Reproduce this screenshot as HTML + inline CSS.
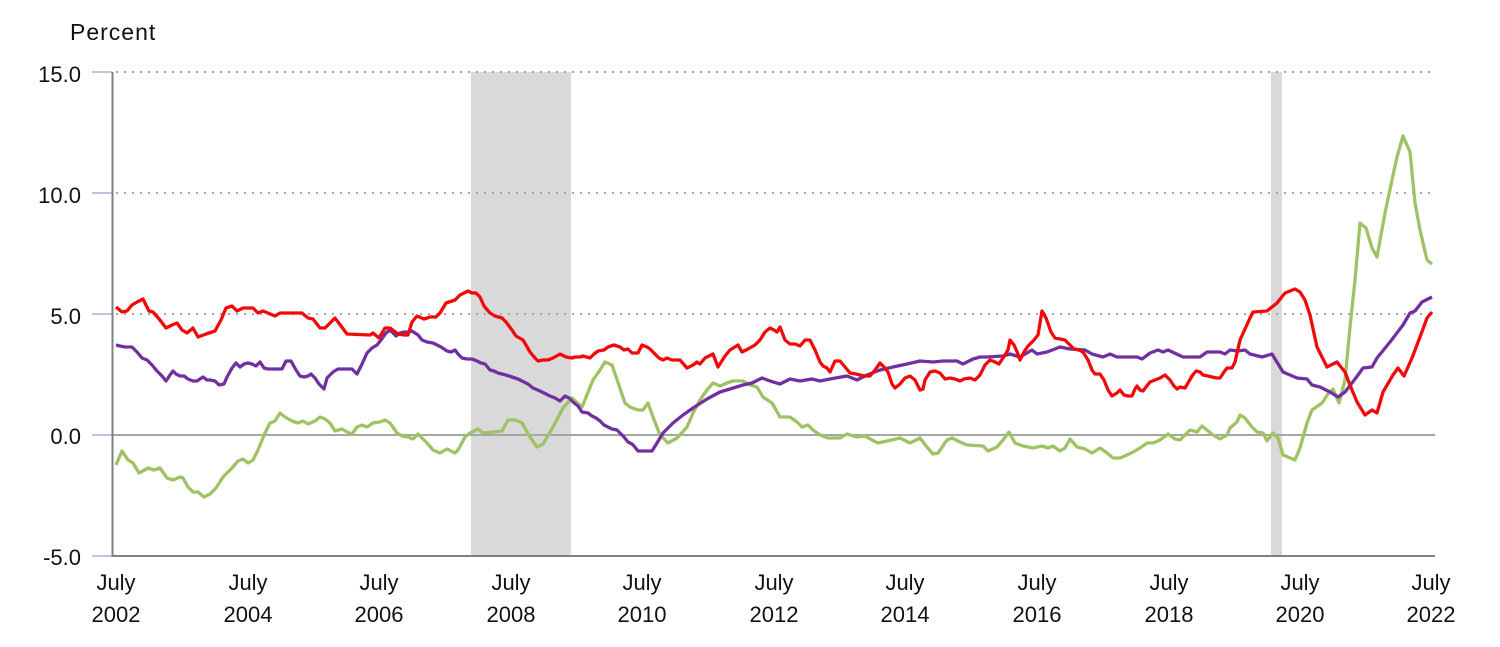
<!DOCTYPE html>
<html>
<head>
<meta charset="utf-8">
<style>
html,body{margin:0;padding:0;background:#fff;}
svg{display:block;}
text{font-family:"Liberation Sans",Arial,sans-serif;fill:#111;}
</style>
</head>
<body>
<svg width="1500" height="647" viewBox="0 0 1500 647" xmlns="http://www.w3.org/2000/svg">
<rect x="0" y="0" width="1500" height="647" fill="#fff"/>
<!-- recession shading -->
<rect x="471" y="72" width="100" height="484" fill="#d9d9d9"/>
<rect x="1271" y="72" width="11" height="484" fill="#d9d9d9"/>
<!-- dotted gridlines -->
<g stroke="#a6a6a6" stroke-width="2" stroke-dasharray="2 6" fill="none">
<line x1="116" y1="72" x2="1435" y2="72"/>
<line x1="116" y1="193" x2="1435" y2="193"/>
<line x1="116" y1="314" x2="1435" y2="314"/>
</g>
<!-- tick marks -->
<g stroke="#bcc6dc" stroke-width="2">
<line x1="92" y1="72" x2="112" y2="72"/>
<line x1="92" y1="193" x2="112" y2="193"/>
<line x1="92" y1="314" x2="112" y2="314"/>
<line x1="92" y1="435" x2="112" y2="435"/>
<line x1="92" y1="556" x2="112" y2="556"/>
</g>
<!-- zero line -->
<line x1="112" y1="435" x2="1435" y2="435" stroke="#a6a6a6" stroke-width="2"/>
<!-- axes -->
<line x1="112.5" y1="72" x2="112.5" y2="557" stroke="#808080" stroke-width="2"/>
<line x1="112" y1="556" x2="1435" y2="556" stroke="#808080" stroke-width="2"/>

<!-- green -->
<polyline fill="none" stroke="#9fc265" stroke-width="3.3" stroke-linejoin="round" points="116,465 122,451 128,460 133,463 139,473 148,468 154,470 160,468 167,478 173,480 180,477 183,478 188,487 193,492 198,492 204,497 210,494 216,488 223,477 232,468 238,461 243,459 248,463 253,460 258,450 265,433 270,423 275,421 280,413 285,417 292,421 298,423 303,421 308,424 315,421 320,417 325,419 330,423 335,431 342,429 347,432 352,434 357,427 362,425 367,427 373,423 380,422 385,420 390,423 397,433 402,436 408,437 413,439 418,434 427,443 433,450 440,453 447,449 455,453 458,450 465,437 470,433 478,429 483,433 493,432 502,431 508,420 515,420 522,423 530,437 537,447 543,444 553,427 563,408 572,398 582,407 593,380 600,370 605,362 612,365 625,403 630,407 638,410 643,410 648,403 653,417 660,435 668,443 677,438 687,427 693,413 700,400 707,390 713,383 720,386 727,383 733,381 743,381 750,385 757,387 763,397 772,403 780,417 790,417 797,422 802,427 808,425 813,430 820,435 828,438 840,438 847,434 857,437 865,436 872,440 878,443 887,441 900,438 910,443 920,438 927,447 933,454 938,453 947,440 952,438 960,442 967,445 983,446 988,451 997,447 1003,440 1009,432 1015,443 1023,446 1033,448 1042,446 1048,448 1053,446 1060,451 1065,448 1070,439 1077,447 1085,449 1092,453 1100,448 1107,453 1113,458 1120,458 1127,455 1133,452 1140,448 1147,443 1153,443 1160,440 1168,434 1175,439 1180,440 1190,430 1197,432 1202,426 1213,435 1220,439 1227,435 1230,428 1237,422 1240,415 1245,418 1252,427 1257,432 1263,433 1267,441 1273,433 1278,438 1283,455 1295,460 1300,448 1307,423 1312,410 1322,403 1328,394 1333,389 1339,403 1345,380 1350,327 1355,280 1360,223 1366,228 1372,248 1377,257 1385,213 1392,180 1397,157 1403,136 1410,152 1415,203 1420,230 1427,260 1432,264"/>

<!-- purple -->
<polyline fill="none" stroke="#7030a0" stroke-width="3.3" stroke-linejoin="round" points="116,345 120,346 125,347 132,347 137,352 142,358 147,360 152,365 157,371 162,376 166,381 170,375 173,371 176,374 180,376 184,376 188,379 193,381 197,381 200,379 203,377 207,380 210,380 215,381 219,385 224,384 227,377 232,368 236,363 240,367 244,364 248,363 252,364 256,366 260,362 264,368 268,369 272,369 278,369 282,369 286,361 291,361 296,370 300,376 304,377 308,376 311,374 315,378 319,384 324,389 327,378 333,372 338,369 342,369 348,369 352,369 357,374 362,364 367,353 372,348 377,345 381,340 386,333 390,330 396,336 400,333 404,332 408,332 412,331 418,335 422,340 427,342 433,343 437,345 441,347 447,351 451,352 455,350 458,354 462,358 467,359 472,359 477,361 481,363 485,364 490,370 494,371 498,373 506,375 512,377 518,379 522,381 528,384 533,388 540,391 546,394 550,396 555,398 560,401 565,396 569,398 573,402 578,406 582,412 588,413 592,416 596,418 600,421 604,425 608,427 612,429 617,430 620,433 624,437 628,442 632,444 634,446 638,451 642,451 648,451 652,451 657,443 663,433 673,423 683,415 693,408 707,399 720,392 730,389 743,385 752,383 762,378 770,381 780,384 790,379 800,381 812,379 820,381 830,379 847,376 857,380 867,375 880,370 893,367 907,364 920,361 933,362 943,361 957,361 963,364 973,359 980,357 987,357 1003,356 1010,354 1020,357 1032,350 1037,354 1047,352 1060,347 1070,349 1085,350 1092,354 1103,357 1110,354 1117,357 1137,357 1142,359 1150,353 1158,350 1163,352 1168,350 1183,357 1200,357 1207,352 1220,352 1225,354 1230,350 1238,351 1245,350 1250,354 1262,357 1272,354 1283,372 1297,378 1307,379 1312,385 1320,387 1330,392 1338,397 1345,392 1352,383 1358,375 1363,368 1372,367 1377,358 1390,342 1403,325 1410,313 1415,311 1422,302 1432,297"/>

<!-- red -->
<polyline fill="none" stroke="#f00a0a" stroke-width="3.3" stroke-linejoin="round" points="116,307 122,312 127,311 132,305 137,302 143,299 149,311 153,312 160,320 166,328 172,325 177,323 182,330 187,333 193,328 198,337 206,334 215,331 221,320 226,308 232,306 237,311 243,308 253,308 258,313 263,311 275,316 280,313 302,313 308,318 313,319 320,328 325,328 335,318 347,334 370,335 373,333 379,338 385,328 390,328 398,334 404,335 408,335 412,322 417,316 424,319 430,317 436,317 440,313 446,303 455,300 460,295 464,293 468,291 472,293 476,293 480,297 484,306 490,313 495,316 502,318 506,322 512,330 516,336 523,340 526,345 530,352 535,358 538,361 543,360 548,360 553,358 560,354 566,357 572,358 575,357 580,357 583,356 590,358 594,354 598,351 604,350 608,347 614,345 620,347 624,350 628,349 632,353 638,353 642,345 647,347 650,349 653,352 656,355 659,358 663,360 667,358 672,360 680,360 687,368 693,365 697,362 700,364 705,358 713,354 718,367 725,356 730,350 738,345 742,352 748,349 755,345 760,340 765,332 770,328 774,330 777,332 780,327 785,340 790,344 795,344 800,346 805,340 810,340 815,350 820,362 823,366 827,368 830,372 835,361 840,361 845,367 850,373 856,374 860,375 865,376 870,376 875,370 880,363 885,368 888,372 892,384 895,388 900,384 905,378 910,376 915,380 920,390 923,389 925,380 930,372 935,371 940,373 945,379 950,378 955,379 960,381 964,379 970,378 975,380 980,375 985,365 990,360 995,362 999,364 1003,358 1008,350 1010,340 1014,345 1018,354 1020,360 1024,352 1028,346 1034,340 1038,335 1042,311 1046,318 1051,332 1055,338 1060,339 1065,340 1070,345 1074,349 1079,350 1083,352 1088,360 1092,370 1095,374 1100,374 1104,380 1108,390 1112,396 1117,393 1120,390 1124,395 1128,396 1132,396 1135,389 1137,386 1140,390 1143,391 1146,387 1150,382 1155,380 1160,378 1165,375 1170,380 1174,386 1177,389 1180,387 1185,388 1188,383 1192,376 1196,371 1200,372 1203,375 1208,376 1212,377 1217,378 1220,378 1224,372 1227,368 1232,368 1235,362 1240,340 1245,329 1250,318 1253,312 1267,311 1277,303 1285,293 1295,289 1300,292 1305,300 1310,315 1317,347 1327,367 1337,362 1345,372 1350,385 1357,402 1365,415 1372,410 1377,413 1383,392 1393,375 1398,368 1404,376 1412,358 1420,337 1427,318 1432,312"/>

<!-- labels -->
<text x="70" y="40" font-size="23" letter-spacing="1">Percent</text>
<g font-size="22" text-anchor="end">
<text x="81" y="82">15.0</text>
<text x="81" y="203">10.0</text>
<text x="81" y="324">5.0</text>
<text x="81" y="444">0.0</text>
<text x="81" y="565">-5.0</text>
</g>
<g font-size="22" text-anchor="middle">
<text x="116" y="590">July</text><text x="116" y="622">2002</text>
<text x="248" y="590">July</text><text x="248" y="622">2004</text>
<text x="379" y="590">July</text><text x="379" y="622">2006</text>
<text x="511" y="590">July</text><text x="511" y="622">2008</text>
<text x="642" y="590">July</text><text x="642" y="622">2010</text>
<text x="774" y="590">July</text><text x="774" y="622">2012</text>
<text x="905" y="590">July</text><text x="905" y="622">2014</text>
<text x="1037" y="590">July</text><text x="1037" y="622">2016</text>
<text x="1169" y="590">July</text><text x="1169" y="622">2018</text>
<text x="1300" y="590">July</text><text x="1300" y="622">2020</text>
<text x="1431" y="590">July</text><text x="1431" y="622">2022</text>
</g>
</svg>
</body>
</html>
